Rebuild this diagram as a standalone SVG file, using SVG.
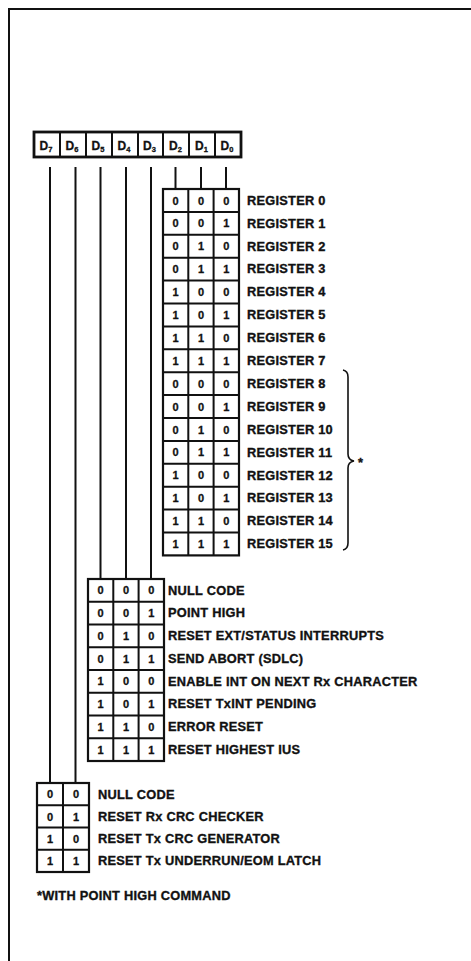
<svg xmlns="http://www.w3.org/2000/svg" width="471" height="961" viewBox="0 0 471 961">
<style>
.cell{fill:#fff;stroke:#111;stroke-width:2.2}
.hdr{fill:#fff;stroke:#111;stroke-width:2.8}
.wire{stroke:#111;stroke-width:2;fill:none}
.dig{font-family:"Liberation Sans",Arial,sans-serif;font-weight:bold;font-size:11px;fill:#111;stroke:#111;stroke-width:0.3;text-anchor:middle}
.lbl{font-family:"Liberation Sans",Arial,sans-serif;font-weight:bold;font-size:12.8px;letter-spacing:0.25px;fill:#111;stroke:#111;stroke-width:0.35}
.hd{font-family:"Liberation Sans",Arial,sans-serif;font-weight:bold;font-size:12px;fill:#111;stroke:#111;stroke-width:0.3;text-anchor:middle}
.sub{font-size:7.5px}
</style>
<rect x="0" y="0" width="471" height="961" fill="#fff"/>
<g id="frame"><path d="M9,961 V9 H471" stroke="#111" stroke-width="2" fill="none"/></g>

<g id="header">
<rect class="hdr" x="34" y="132" width="207" height="25"/>
<g class="wire"><path d="M60,132V157M86,132V157M112,132V157M138,132V157M163,132V157M189,132V157M215,132V157"/></g>
<text class="hd" x="46" y="149.5">D<tspan class="sub" dy="2">7</tspan></text>
<text class="hd" x="72" y="149.5">D<tspan class="sub" dy="2">6</tspan></text>
<text class="hd" x="98" y="149.5">D<tspan class="sub" dy="2">5</tspan></text>
<text class="hd" x="124" y="149.5">D<tspan class="sub" dy="2">4</tspan></text>
<text class="hd" x="149.5" y="149.5">D<tspan class="sub" dy="2">3</tspan></text>
<text class="hd" x="175.5" y="149.5">D<tspan class="sub" dy="2">2</tspan></text>
<text class="hd" x="201.5" y="149.5">D<tspan class="sub" dy="2">1</tspan></text>
<text class="hd" x="227" y="149.5">D<tspan class="sub" dy="2">0</tspan></text>
</g>

<g id="connectors" class="wire">
<path d="M50,167V783"/>
<path d="M75.5,167V783"/>
<path d="M100.5,167V579"/>
<path d="M126,167V579"/>
<path d="M151,167V579"/>
<path d="M175.5,167V189"/>
<path d="M201,167V189"/>
<path d="M226,167V189"/>
</g>

<g id="registers">
<g class="cells">
<rect class="cell" x="163" y="189" width="76" height="366.4"/>
<path class="wire" d="M188.3,189V555.4M213.6,189V555.4"/>
<path class="wire" d="M163,211.9H239M163,234.8H239M163,257.7H239M163,280.6H239M163,303.5H239M163,326.4H239M163,349.3H239M163,372.2H239M163,395.1H239M163,418H239M163,440.9H239M163,463.8H239M163,486.7H239M163,509.6H239M163,532.5H239"/>
</g>
<g class="dig">
<text x="175.5" y="204.5">0</text><text x="201" y="204.5">0</text><text x="226.3" y="204.5">0</text>
<text x="175.5" y="227.4">0</text><text x="201" y="227.4">0</text><text x="226.3" y="227.4">1</text>
<text x="175.5" y="250.3">0</text><text x="201" y="250.3">1</text><text x="226.3" y="250.3">0</text>
<text x="175.5" y="273.2">0</text><text x="201" y="273.2">1</text><text x="226.3" y="273.2">1</text>
<text x="175.5" y="296.1">1</text><text x="201" y="296.1">0</text><text x="226.3" y="296.1">0</text>
<text x="175.5" y="319">1</text><text x="201" y="319">0</text><text x="226.3" y="319">1</text>
<text x="175.5" y="341.9">1</text><text x="201" y="341.9">1</text><text x="226.3" y="341.9">0</text>
<text x="175.5" y="364.8">1</text><text x="201" y="364.8">1</text><text x="226.3" y="364.8">1</text>
<text x="175.5" y="387.7">0</text><text x="201" y="387.7">0</text><text x="226.3" y="387.7">0</text>
<text x="175.5" y="410.6">0</text><text x="201" y="410.6">0</text><text x="226.3" y="410.6">1</text>
<text x="175.5" y="433.5">0</text><text x="201" y="433.5">1</text><text x="226.3" y="433.5">0</text>
<text x="175.5" y="456.4">0</text><text x="201" y="456.4">1</text><text x="226.3" y="456.4">1</text>
<text x="175.5" y="479.3">1</text><text x="201" y="479.3">0</text><text x="226.3" y="479.3">0</text>
<text x="175.5" y="502.2">1</text><text x="201" y="502.2">0</text><text x="226.3" y="502.2">1</text>
<text x="175.5" y="525.1">1</text><text x="201" y="525.1">1</text><text x="226.3" y="525.1">0</text>
<text x="175.5" y="548">1</text><text x="201" y="548">1</text><text x="226.3" y="548">1</text>
</g>
<g class="lbl">
<text x="247" y="204.7">REGISTER 0</text>
<text x="247" y="227.6">REGISTER 1</text>
<text x="247" y="250.5">REGISTER 2</text>
<text x="247" y="273.4">REGISTER 3</text>
<text x="247" y="296.3">REGISTER 4</text>
<text x="247" y="319.2">REGISTER 5</text>
<text x="247" y="342.1">REGISTER 6</text>
<text x="247" y="365">REGISTER 7</text>
<text x="247" y="387.9">REGISTER 8</text>
<text x="247" y="410.8">REGISTER 9</text>
<text x="247" y="433.7">REGISTER 10</text>
<text x="247" y="456.6">REGISTER 11</text>
<text x="247" y="479.5">REGISTER 12</text>
<text x="247" y="502.4">REGISTER 13</text>
<text x="247" y="525.3">REGISTER 14</text>
<text x="247" y="548.2">REGISTER 15</text>
</g>
</g>

<g id="brace">
<path d="M343,370 Q348,371 348,377 V454 Q348,460 354,461 Q348,462 348,468 V543 Q348,549 343,550" stroke="#111" stroke-width="1.6" fill="none"/>
<text class="lbl" x="358" y="467">*</text>
</g>

<g id="commands">
<rect class="cell" x="88" y="579" width="76" height="182"/>
<path class="wire" d="M113.3,579V761M138.6,579V761"/>
<path class="wire" d="M88,601.75H164M88,624.5H164M88,647.25H164M88,670H164M88,692.75H164M88,715.5H164M88,738.25H164"/>
<g class="dig">
<text x="100.5" y="594.4">0</text><text x="126" y="594.4">0</text><text x="151.3" y="594.4">0</text>
<text x="100.5" y="617.2">0</text><text x="126" y="617.2">0</text><text x="151.3" y="617.2">1</text>
<text x="100.5" y="639.9">0</text><text x="126" y="639.9">1</text><text x="151.3" y="639.9">0</text>
<text x="100.5" y="662.7">0</text><text x="126" y="662.7">1</text><text x="151.3" y="662.7">1</text>
<text x="100.5" y="685.4">1</text><text x="126" y="685.4">0</text><text x="151.3" y="685.4">0</text>
<text x="100.5" y="708.2">1</text><text x="126" y="708.2">0</text><text x="151.3" y="708.2">1</text>
<text x="100.5" y="730.9">1</text><text x="126" y="730.9">1</text><text x="151.3" y="730.9">0</text>
<text x="100.5" y="753.7">1</text><text x="126" y="753.7">1</text><text x="151.3" y="753.7">1</text>
</g>
<g class="lbl">
<text x="168" y="594.6">NULL CODE</text>
<text x="168" y="617.4">POINT HIGH</text>
<text x="168" y="640.1">RESET EXT/STATUS INTERRUPTS</text>
<text x="168" y="662.9">SEND ABORT (SDLC)</text>
<text x="168" y="685.6">ENABLE INT ON NEXT Rx CHARACTER</text>
<text x="168" y="708.4">RESET TxINT PENDING</text>
<text x="168" y="731.1">ERROR RESET</text>
<text x="168" y="753.9">RESET HIGHEST IUS</text>
</g>
</g>

<g id="crc">
<rect class="cell" x="37" y="783" width="52" height="89"/>
<path class="wire" d="M63,783V872"/>
<path class="wire" d="M37,805.25H89M37,827.5H89M37,849.75H89"/>
<g class="dig">
<text x="50" y="798.4">0</text><text x="76" y="798.4">0</text>
<text x="50" y="820.7">0</text><text x="76" y="820.7">1</text>
<text x="50" y="842.9">1</text><text x="76" y="842.9">0</text>
<text x="50" y="865.2">1</text><text x="76" y="865.2">1</text>
</g>
<g class="lbl">
<text x="98" y="798.6">NULL CODE</text>
<text x="98" y="820.9">RESET Rx CRC CHECKER</text>
<text x="98" y="843.1">RESET Tx CRC GENERATOR</text>
<text x="98" y="865.4">RESET Tx UNDERRUN/EOM LATCH</text>
</g>
</g>

<g id="footnote">
<text class="lbl" x="37" y="900">*WITH POINT HIGH COMMAND</text>
</g>
</svg>
